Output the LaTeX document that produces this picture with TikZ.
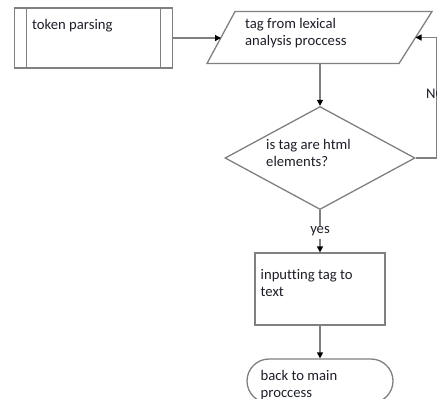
\documentclass[tikz,border=0pt]{standalone}
\usepackage{fontspec}
\setmainfont{Carlito}[Ligatures=NoCommon]
\usetikzlibrary{shapes.geometric,shapes.misc,arrows.meta,calc}
\definecolor{lineg}{RGB}{128,128,128}
\definecolor{txt}{RGB}{30,30,40}
\tikzset{
  shapebox/.style={draw=lineg, line width=1.3bp, fill=white, inner sep=0pt},
  flow/.style={draw=lineg, line width=1.3bp},
  arr/.style={flow, -{Triangle[length=6bp,width=6bp,color=black]}},
  lbl/.style={anchor=base west, inner sep=0pt, align=left, text=txt,
              font=\fontsize{14.67bp}{17bp}\selectfont},
}
\begin{document}
\begin{tikzpicture}[x=1bp, y=-1bp]
  \useasboundingbox (0,0) rectangle (437,398);
  \clip (0,0) rectangle (437,398);

  % predefined process
  \node[shapebox, rectangle, minimum width=158bp, minimum height=60bp] (tok) at (93.5,38) {};
  \draw[flow] ([xshift=12.5bp]tok.north west) -- ([xshift=12.5bp]tok.south west);
  \draw[flow] ([xshift=-12.5bp]tok.north east) -- ([xshift=-12.5bp]tok.south east);
  \node[lbl] (toktxt) at (32,29) {token parsing};

  % input / output (parallelogram)
  \coordinate (tagBL) at (207,63.5);
  \coordinate (tagTL) at (235,11.5);
  \coordinate (tagTR) at (432,11.5);
  \coordinate (tagBR) at (399,63.5);
  \draw[shapebox] (tagBL) -- (tagTL) -- (tagTR) -- (tagBR) -- cycle;
  \coordinate (tagW) at ($(tagBL)!0.5!(tagTL)$);
  \coordinate (tagE) at ($(tagBR)!0.5!(tagTR)$);
  \coordinate (tagS) at (320,63.5);
  \node[lbl] (tagtxt) at (245,45) {tag from lexical\\analysis proccess};

  % decision
  \node[shapebox, diamond, minimum width=190bp, minimum height=103bp] (dec) at (320,158) {};
  \node[lbl] (dectxt) at (266,166.5) {is tag are html\\elements?};

  % process
  \node[shapebox, rectangle, minimum width=130bp, minimum height=72bp] (inp) at (320,289) {};
  \node[lbl] (inptxt) at (260.5,296) {inputting tag to\\text};

  % terminator
  \node[shapebox, rounded rectangle, minimum width=146bp, minimum height=44bp] (back) at (320,381) {};
  \node[lbl] (backtxt) at (260.5,397) {back to main\\proccess};

  % connectors
  \draw[arr] (tok.east) -- (tok.east -| tagW);
  \draw[arr] (tagS) -- (dec.north);

  \node[lbl, anchor=base] (yes) at (320,233) {yes};
  \draw[flow] (dec.south) -- (yes.north);
  \draw[arr] ([yshift=-3bp]yes.south) -- (inp.north);
  \draw[arr] (inp.south) -- (back.north);

  \coordinate (rb) at (437,158);
  \draw[arr] (dec.east) -- (rb) |- (tagE);
  \node[lbl] (no) at (426,98) {NO};
\end{tikzpicture}
\end{document}
